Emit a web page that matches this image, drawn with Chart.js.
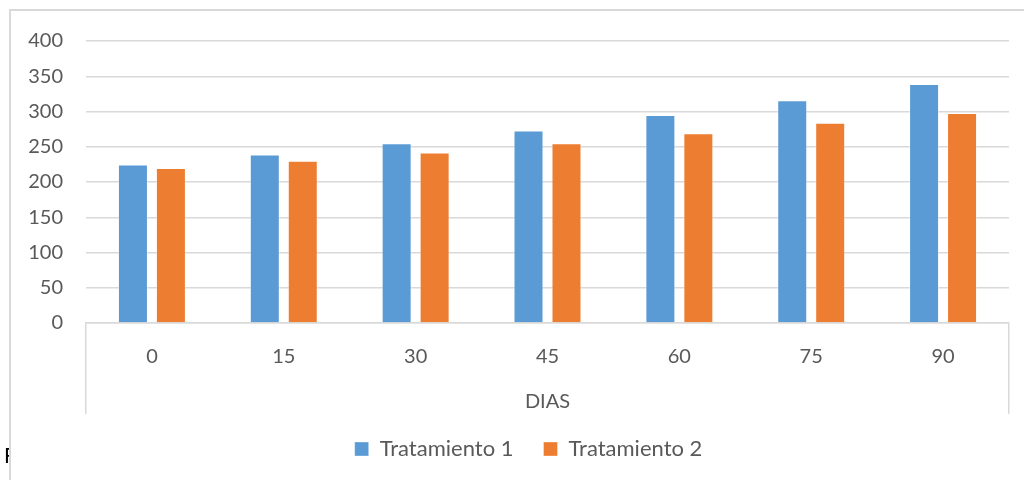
<!DOCTYPE html>
<html>
<head>
<meta charset="utf-8">
<script src="https://cdn.jsdelivr.net/npm/chart.js@4"></script>
<style>
  html, body { margin: 0; padding: 0; background: #fff; }
  #wrap { width: 1024px; height: 480px; }
</style>
</head>
<body>
<div id="wrap"><canvas id="graficoDias"></canvas></div>
<script>
var dias = ['0', '15', '30', '45', '60', '75', '90'];
var tratamiento1 = [225, 239, 255, 273, 295, 316, 339];
var tratamiento2 = [220, 230, 242, 255, 269, 284, 298];
var yMax = 400;
var yPaso = 50;

var gris = '#595959';
var lineaGris = '#d9d9d9';
var fuente = 'Lato, "Open Sans", sans-serif';

// marco del gráfico y la letra cortada que asoma a la izquierda
var marco = {
    id: 'marco',
    afterLayout: function (chart) {
        // la leyenda queda centrada bajo el área de barras
        chart.legend.left += 19;
        chart.legend.right += 19;
    },
    beforeDraw: function (chart) {
        var ctx = chart.ctx;
        ctx.save();
        ctx.fillStyle = '#fff';
        ctx.fillRect(0, 0, chart.width, chart.height);
        ctx.strokeStyle = lineaGris;
        ctx.lineWidth = 2;
        ctx.beginPath();
        ctx.moveTo(10, chart.height);
        ctx.lineTo(10, 10);
        ctx.lineTo(chart.width, 10);
        ctx.stroke();
        ctx.beginPath();
        ctx.rect(0, 0, 9, chart.height);
        ctx.clip();
        ctx.fillStyle = '#000';
        ctx.font = '21px ' + fuente;
        ctx.textBaseline = 'alphabetic';
        ctx.fillText('F', 4, 463);
        ctx.restore();
    }
};

var dataDias = {
    labels: dias,
    datasets: [{
        label: 'Tratamiento 1',
        data: tratamiento1,
        backgroundColor: '#5b9bd5',
        borderColor: 'rgba(255,255,255,0.35)',
        borderWidth: 1,
        barPercentage: 0.79,
        categoryPercentage: 0.576
    }, {
        label: 'Tratamiento 2',
        data: tratamiento2,
        backgroundColor: '#ed7d31',
        borderColor: 'rgba(255,255,255,0.35)',
        borderWidth: 1,
        barPercentage: 0.79,
        categoryPercentage: 0.576
    }]
};

var optionsDias = {
    responsive: true,
    maintainAspectRatio: false,
    animation: false,
    layout: {
        padding: { left: 10, right: 15, top: 41, bottom: 10 }
    },
    scales: {
        x: {
            offset: true,
            grid: {
                offset: true,
                drawOnChartArea: false,
                drawTicks: true,
                tickLength: 91,
                // solo las líneas de los extremos bajan hasta el título
                color: function (c) {
                    return (c.index === 0 || c.index === undefined) ? lineaGris : 'rgba(0,0,0,0)';
                },
                lineWidth: 1.5
            },
            border: { display: true, color: lineaGris, width: 1.5 },
            ticks: {
                padding: -69,
                color: gris,
                font: { family: fuente, size: 20 }
            },
            title: {
                display: true,
                text: 'DIAS',
                color: gris,
                font: { family: fuente, size: 20 },
                padding: { top: 0, bottom: -6 }
            },
            afterFit: function (scale) { scale.height = 85; }
        },
        y: {
            min: 0,
            max: yMax,
            ticks: {
                stepSize: yPaso,
                padding: 23,
                color: gris,
                font: { family: fuente, size: 20 }
            },
            grid: {
                color: lineaGris,
                lineWidth: 1.5,
                drawTicks: false
            },
            border: { display: false },
            afterFit: function (scale) { scale.width = 76; }
        }
    },
    plugins: {
        legend: {
            position: 'bottom',
            labels: {
                boxWidth: 14,
                boxHeight: 14,
                padding: 30,
                color: gris,
                font: { family: fuente, size: 22 }
            }
        },
        tooltip: { enabled: false }
    }
};

var ctxDias = document.getElementById('graficoDias').getContext('2d');
var graficoDias = new Chart(ctxDias, {
    type: 'bar',
    data: dataDias,
    options: optionsDias,
    plugins: [marco]
});
</script>
</body>
</html>
